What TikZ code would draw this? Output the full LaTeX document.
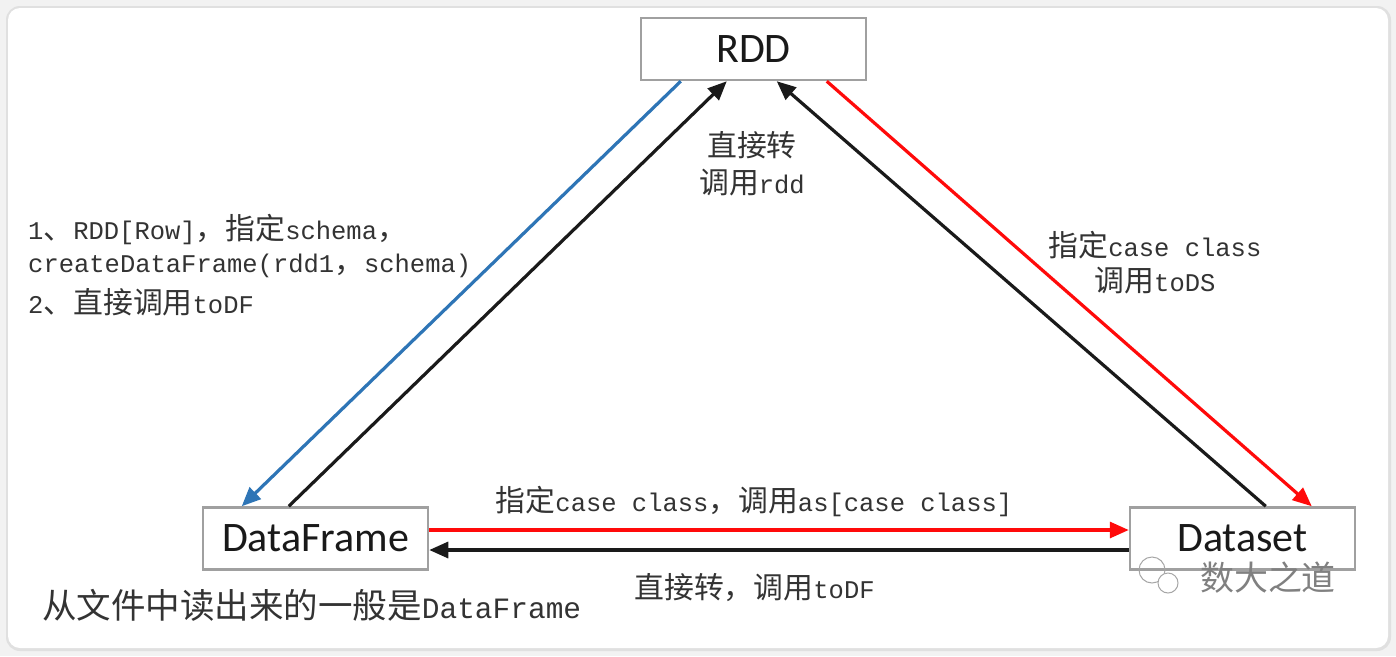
\documentclass[tikz,border=0pt]{standalone}
\usepackage{fontspec}
\setmainfont{Liberation Mono}
\newfontfamily\cjk[Scale=1.17]{Noto Sans CJK SC}
\newfontfamily\lmono{Liberation Mono}
\newfontfamily\boxfont{Carlito}
\usetikzlibrary{arrows.meta,calc}
\newcommand\zh[1]{{\cjk #1}}
\definecolor{arrblue}{HTML}{2E75B6}
\definecolor{arrred}{HTML}{FF0A0A}
\definecolor{arrblack}{HTML}{1A1A1A}
\definecolor{boxgray}{HTML}{A0A0A0}
\definecolor{labelgray}{HTML}{333333}
\tikzset{
  databox/.style={draw=boxgray, line width=2.5pt, fill=white, minimum width=225pt, minimum height=62pt, inner sep=0pt, font=\boxfont\fontsize{42}{46}\selectfont, text=black!90},
  conn/.style={line width=3.2pt, -{Triangle[length=19pt,width=16pt]}},
  lbl/.style={inner sep=0pt, text=labelgray, font=\lmono\fontsize{25.5}{36}\selectfont},
  biglbl/.style={inner sep=0pt, text=labelgray, font=\lmono\fontsize{29.5}{36}\selectfont},
}
\begin{document}
\begin{tikzpicture}[x=1pt,y=-1pt]
\useasboundingbox (0,0) rectangle (1396,656);
\fill[black!5] (0,0) rectangle (1396,656);
\fill[black!12, rounded corners=14pt] (6,6) rectangle (1391,651);
\fill[white, rounded corners=12pt] (8,8) rectangle (1388,648);

\node[databox] (rdd) at (753.5,49) {RDD};
\node[databox] (df) at (315.5,538.5) {DataFrame};
\node[databox] (ds) at (1242.5,538.5) {Dataset};

% diagonal connectors
\draw[conn, arrblue] ([xshift=41pt]rdd.south west) -- ([xshift=40pt]df.north west);
\draw[conn, arrblack] ([xshift=87pt]df.north west) -- ([xshift=87pt]rdd.south west);
\draw[conn, arrblack] ([xshift=137pt]ds.north west) -- ([xshift=137pt]rdd.south west);
\draw[conn, arrred] ([xshift=187pt]rdd.south west) -- ([xshift=183pt]ds.north west);
% horizontal connectors
\draw[conn, arrred] ([yshift=8.5pt]df.east) -- ([yshift=8.5pt]ds.west);
\draw[conn, arrblack] ([yshift=-11.5pt]ds.west) -- ([yshift=-11.5pt]df.east);

% labels
\node[lbl, anchor=west] (l1) at (28,230) {1\zh{、}RDD[Row]\zh{，指定}schema\zh{，}};
\node[lbl, anchor=west] (l2) at (28,266) {createDataFrame(rdd1\zh{，}schema)};
\node[lbl, anchor=west] (l3) at (28,302) {2\zh{、直接调用}toDF};

\node[lbl] (t1) at (752,145) {\zh{直接转}};
\node[lbl] (t2) at (752,183) {\zh{调用}rdd};

\node[lbl] (r1) at (1155,245) {\zh{指定}case class};
\node[lbl] (r2) at (1155,281) {\zh{调用}toDS};

\node[lbl] (b1) at (754,502) {\zh{指定}case class\zh{，调用}as[case class]};
\node[lbl] (b2) at (754.5,588) {\zh{直接转，调用}toDF};

\node[biglbl, anchor=west] (b3) at (42,605) {\zh{从文件中读出来的一般是}DataFrame};

% watermark
\draw[black!35, line width=1pt] (1152,570) circle (13pt);
\draw[black!35, line width=1pt, fill=white] (1168,583) circle (10pt);
\node[inner sep=0pt, text=black!50, font=\cjk\fontsize{29}{32}\selectfont] (wm) at (1268,578) {数大之道};
\end{tikzpicture}
\end{document}
